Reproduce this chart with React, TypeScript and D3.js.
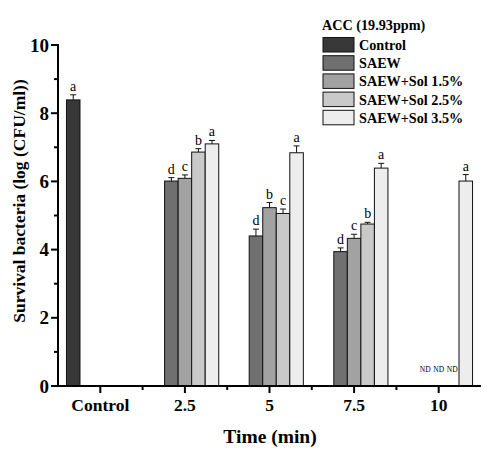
import React from "react";
import * as d3 from "d3";

const categories = ["Control", "2.5", "5", "7.5", "10"];
const seriesNames = ["Control", "SAEW", "SAEW+Sol 1.5%", "SAEW+Sol 2.5%", "SAEW+Sol 3.5%"];
const seriesColors = ["#383838", "#707070", "#a2a2a2", "#c9c9c9", "#ededed"];

const controlValues = [8.39, null, null, null, null];
const saewValues = [null, 6.01, 4.40, 3.94, null];
const sol15Values = [null, 6.09, 5.23, 4.33, null];
const sol25Values = [null, 6.86, 5.06, 4.75, null];
const sol35Values = [null, 7.10, 6.84, 6.39, 6.01];

const controlErr = [0.15, null, null, null, null];
const saewErr = [null, 0.1, 0.2, 0.11, null];
const sol15Err = [null, 0.1, 0.15, 0.12, null];
const sol25Err = [null, 0.1, 0.13, 0.05, null];
const sol35Err = [null, 0.1, 0.2, 0.14, 0.19];

const controlLetters = ["a", "", "", "", ""];
const saewLetters = ["", "d", "d", "d", "ND"];
const sol15Letters = ["", "c", "b", "c", "ND"];
const sol25Letters = ["", "b", "c", "b", "ND"];
const sol35Letters = ["", "a", "a", "a", "a"];

const yTicks = [0, 2, 4, 6, 8, 10];
const yMinorTicks = [1, 3, 5, 7, 9];

const allValues = [controlValues, saewValues, sol15Values, sol25Values, sol35Values];
const allErr = [controlErr, saewErr, sol15Err, sol25Err, sol35Err];
const allLetters = [controlLetters, saewLetters, sol15Letters, sol25Letters, sol35Letters];

export default function App() {
  const W = 500, H = 457;
  const x0 = 58, x1 = 481, yTop = 45, yBot = 386;
  const font = "'Liberation Serif', 'Times New Roman', serif";
  const x = d3.scaleBand<string>().domain(categories).range([x0, x1]).padding(0);
  const bw = x.bandwidth();
  const xs = d3.scaleBand<string>().domain(seriesNames).range([bw * 0.1, bw * 0.9]).padding(0);
  const y = d3.scaleLinear().domain([0, 10]).range([yBot, yTop]);
  const minorX = categories.slice(0, -1).map((c) => (x(c) as number) + bw);

  return (
    <svg width={W} height={H} style={{ position: "absolute", left: 0, top: 0, background: "#fff" }}>
      {/* bars */}
      {seriesNames.map((s, si) =>
        categories.map((c, ci) => {
          const v = allValues[si][ci];
          const bx = (x(c) as number) + (xs(s) as number);
          const w = xs.bandwidth();
          const cx = bx + w / 2;
          const letter = allLetters[si][ci];
          if (v == null) {
            if (letter === "ND") {
              return (
                <text key={s + c} x={cx} y={yBot - 14} fontFamily={font} fontSize={7.5} textAnchor="middle">ND</text>
              );
            }
            return null;
          }
          const e = allErr[si][ci] || 0;
          return (
            <g key={s + c}>
              <rect x={bx} y={y(v)} width={w} height={yBot - y(v)} fill={seriesColors[si]} stroke="#111" strokeWidth={1} />
              <line x1={cx} x2={cx} y1={y(v)} y2={y(v + e)} stroke="#111" strokeWidth={1} />
              <line x1={cx - 3} x2={cx + 3} y1={y(v + e)} y2={y(v + e)} stroke="#111" strokeWidth={1} />
              <text x={cx} y={y(v + e) - 4} fontFamily={font} fontSize={14} textAnchor="middle">{letter}</text>
            </g>
          );
        })
      )}
      {/* y axis */}
      <line x1={x0} x2={x0} y1={yTop - 1} y2={yBot + 1} stroke="#000" strokeWidth={2} />
      {yTicks.map((t) => (
        <g key={"yt" + t}>
          <line x1={x0 - 7} x2={x0} y1={y(t)} y2={y(t)} stroke="#000" strokeWidth={2} />
          <text x={x0 - 9} y={y(t)} dy="0.35em" fontFamily={font} fontSize={19} fontWeight="bold" textAnchor="end">{t}</text>
        </g>
      ))}
      {yMinorTicks.map((t) => (
        <line key={"ym" + t} x1={x0 - 4} x2={x0} y1={y(t)} y2={y(t)} stroke="#000" strokeWidth={2} />
      ))}
      {/* x axis */}
      <line x1={x0 - 1} x2={x1} y1={yBot} y2={yBot} stroke="#000" strokeWidth={2} />
      {categories.map((c) => {
        const cx = (x(c) as number) + bw / 2;
        return (
          <g key={"xt" + c}>
            <line x1={cx} x2={cx} y1={yBot} y2={yBot + 7} stroke="#000" strokeWidth={2} />
            <text x={cx} y={411} fontFamily={font} fontSize={17.5} fontWeight="bold" textAnchor="middle">{c}</text>
          </g>
        );
      })}
      {minorX.map((mx, i) => (
        <line key={"xm" + i} x1={mx} x2={mx} y1={yBot} y2={yBot + 4} stroke="#000" strokeWidth={2} />
      ))}
      <text x={270} y={443} fontFamily={font} fontSize={19.5} fontWeight="bold" textAnchor="middle">Time (min)</text>
      <text transform={`translate(25, 201) rotate(-90)`} fontFamily={font} fontSize={17.5} fontWeight="bold" textAnchor="middle">
        Survival bacteria (log (CFU/ml))
      </text>
      {/* legend */}
      <text x={322} y={30} fontFamily={font} fontSize={14.2} fontWeight="bold">ACC (19.93ppm)</text>
      {seriesNames.map((s, i) => (
        <g key={"lg" + s} transform={`translate(323, ${37.5 + i * 18.2})`}>
          <rect x={0} y={0} width={31} height={14.5} fill={seriesColors[i]} stroke="#111" strokeWidth={1} />
          <text x={36} y={7.5} dy="0.35em" fontFamily={font} fontSize={14.2} fontWeight="bold">{s}</text>
        </g>
      ))}
    </svg>
  );
}
